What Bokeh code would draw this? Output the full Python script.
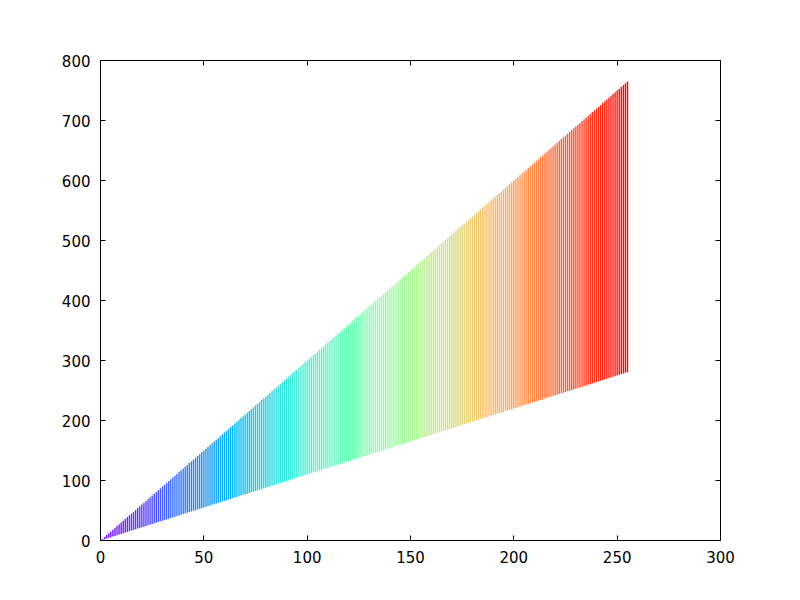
import math
from bokeh.plotting import figure
from bokeh.models import LinearAxis, Range1d, SingleIntervalTicker, ColumnDataSource
from bokeh.embed import file_html
from bokeh.resources import INLINE

x = list(range(256))
ymin = [
    0, 1.1, 2.2, 3.3, 4.4, 5.5, 6.6, 7.7, 8.8, 9.9,
    11, 12.1, 13.2, 14.3, 15.4, 16.5, 17.6, 18.7, 19.8, 20.9,
    22, 23.1, 24.2, 25.3, 26.4, 27.5, 28.6, 29.7, 30.8, 31.9,
    33, 34.1, 35.2, 36.3, 37.4, 38.5, 39.6, 40.7, 41.8, 42.9,
    44, 45.1, 46.2, 47.3, 48.4, 49.5, 50.6, 51.7, 52.8, 53.9,
    55, 56.1, 57.2, 58.3, 59.4, 60.5, 61.6, 62.7, 63.8, 64.9,
    66, 67.1, 68.2, 69.3, 70.4, 71.5, 72.6, 73.7, 74.8, 75.9,
    77, 78.1, 79.2, 80.3, 81.4, 82.5, 83.6, 84.7, 85.8, 86.9,
    88, 89.1, 90.2, 91.3, 92.4, 93.5, 94.6, 95.7, 96.8, 97.9,
    99, 100.1, 101.2, 102.3, 103.4, 104.5, 105.6, 106.7, 107.8, 108.9,
    110, 111.1, 112.2, 113.3, 114.4, 115.5, 116.6, 117.7, 118.8, 119.9,
    121, 122.1, 123.2, 124.3, 125.4, 126.5, 127.6, 128.7, 129.8, 130.9,
    132, 133.1, 134.2, 135.3, 136.4, 137.5, 138.6, 139.7, 140.8, 141.9,
    143, 144.1, 145.2, 146.3, 147.4, 148.5, 149.6, 150.7, 151.8, 152.9,
    154, 155.1, 156.2, 157.3, 158.4, 159.5, 160.6, 161.7, 162.8, 163.9,
    165, 166.1, 167.2, 168.3, 169.4, 170.5, 171.6, 172.7, 173.8, 174.9,
    176, 177.1, 178.2, 179.3, 180.4, 181.5, 182.6, 183.7, 184.8, 185.9,
    187, 188.1, 189.2, 190.3, 191.4, 192.5, 193.6, 194.7, 195.8, 196.9,
    198, 199.1, 200.2, 201.3, 202.4, 203.5, 204.6, 205.7, 206.8, 207.9,
    209, 210.1, 211.2, 212.3, 213.4, 214.5, 215.6, 216.7, 217.8, 218.9,
    220, 221.1, 222.2, 223.3, 224.4, 225.5, 226.6, 227.7, 228.8, 229.9,
    231, 232.1, 233.2, 234.3, 235.4, 236.5, 237.6, 238.7, 239.8, 240.9,
    242, 243.1, 244.2, 245.3, 246.4, 247.5, 248.6, 249.7, 250.8, 251.9,
    253, 254.1, 255.2, 256.3, 257.4, 258.5, 259.6, 260.7, 261.8, 262.9,
    264, 265.1, 266.2, 267.3, 268.4, 269.5, 270.6, 271.7, 272.8, 273.9,
    275, 276.1, 277.2, 278.3, 279.4, 280.5,
]
ymax = [
    0, 3, 6, 9, 12, 15, 18, 21, 24, 27,
    30, 33, 36, 39, 42, 45, 48, 51, 54, 57,
    60, 63, 66, 69, 72, 75, 78, 81, 84, 87,
    90, 93, 96, 99, 102, 105, 108, 111, 114, 117,
    120, 123, 126, 129, 132, 135, 138, 141, 144, 147,
    150, 153, 156, 159, 162, 165, 168, 171, 174, 177,
    180, 183, 186, 189, 192, 195, 198, 201, 204, 207,
    210, 213, 216, 219, 222, 225, 228, 231, 234, 237,
    240, 243, 246, 249, 252, 255, 258, 261, 264, 267,
    270, 273, 276, 279, 282, 285, 288, 291, 294, 297,
    300, 303, 306, 309, 312, 315, 318, 321, 324, 327,
    330, 333, 336, 339, 342, 345, 348, 351, 354, 357,
    360, 363, 366, 369, 372, 375, 378, 381, 384, 387,
    390, 393, 396, 399, 402, 405, 408, 411, 414, 417,
    420, 423, 426, 429, 432, 435, 438, 441, 444, 447,
    450, 453, 456, 459, 462, 465, 468, 471, 474, 477,
    480, 483, 486, 489, 492, 495, 498, 501, 504, 507,
    510, 513, 516, 519, 522, 525, 528, 531, 534, 537,
    540, 543, 546, 549, 552, 555, 558, 561, 564, 567,
    570, 573, 576, 579, 582, 585, 588, 591, 594, 597,
    600, 603, 606, 609, 612, 615, 618, 621, 624, 627,
    630, 633, 636, 639, 642, 645, 648, 651, 654, 657,
    660, 663, 666, 669, 672, 675, 678, 681, 684, 687,
    690, 693, 696, 699, 702, 705, 708, 711, 714, 717,
    720, 723, 726, 729, 732, 735, 738, 741, 744, 747,
    750, 753, 756, 759, 762, 765,
]


def rainbow(t):
    r = min(1.0, abs(2 * t - 0.5))
    g = max(0.0, math.sin(math.pi * t))
    b = max(0.0, math.cos(math.pi * t / 2))
    return "#%02x%02x%02x" % (int(round(r * 255)), int(round(g * 255)), int(round(b * 255)))


n = len(x)
colors = [rainbow(i / (n - 1)) for i in range(n)]

src = ColumnDataSource(data=dict(x=x, ymin=ymin, ymax=ymax, color=colors))

FONT = "DejaVu Sans"
FS = "15px"

p = figure(width=800, height=600, output_backend="svg", toolbar_location=None,
           x_range=Range1d(0, 300), y_range=Range1d(0, 800),
           min_border_left=100, min_border_right=80, min_border_top=60, min_border_bottom=60,
           x_axis_location=None, y_axis_location=None)
p.grid.visible = False
p.outline_line_color = "black"
p.outline_line_width = 1
p.background_fill_color = "white"
p.border_fill_color = "white"

p.segment(x0="x", y0="ymin", x1="x", y1="ymax", line_color="color", line_width=1.4,
          source=src)


def mk_axis(interval, show_labels):
    ax = LinearAxis(ticker=SingleIntervalTicker(interval=interval))
    ax.axis_line_color = None
    ax.major_tick_in = 5
    ax.major_tick_out = 0
    ax.major_tick_line_color = "black"
    ax.minor_tick_line_color = None
    ax.major_label_text_font = FONT
    ax.major_label_text_font_size = FS
    ax.major_label_text_color = "black"
    ax.major_label_standoff = 6
    if not show_labels:
        ax.major_label_text_alpha = 0
        ax.major_label_text_font_size = "1px"
    return ax


p.add_layout(mk_axis(50, True), "below")
p.add_layout(mk_axis(100, True), "left")
p.add_layout(mk_axis(50, False), "above")
p.add_layout(mk_axis(100, False), "right")

open("out.html", "w").write(file_html(p, INLINE))
